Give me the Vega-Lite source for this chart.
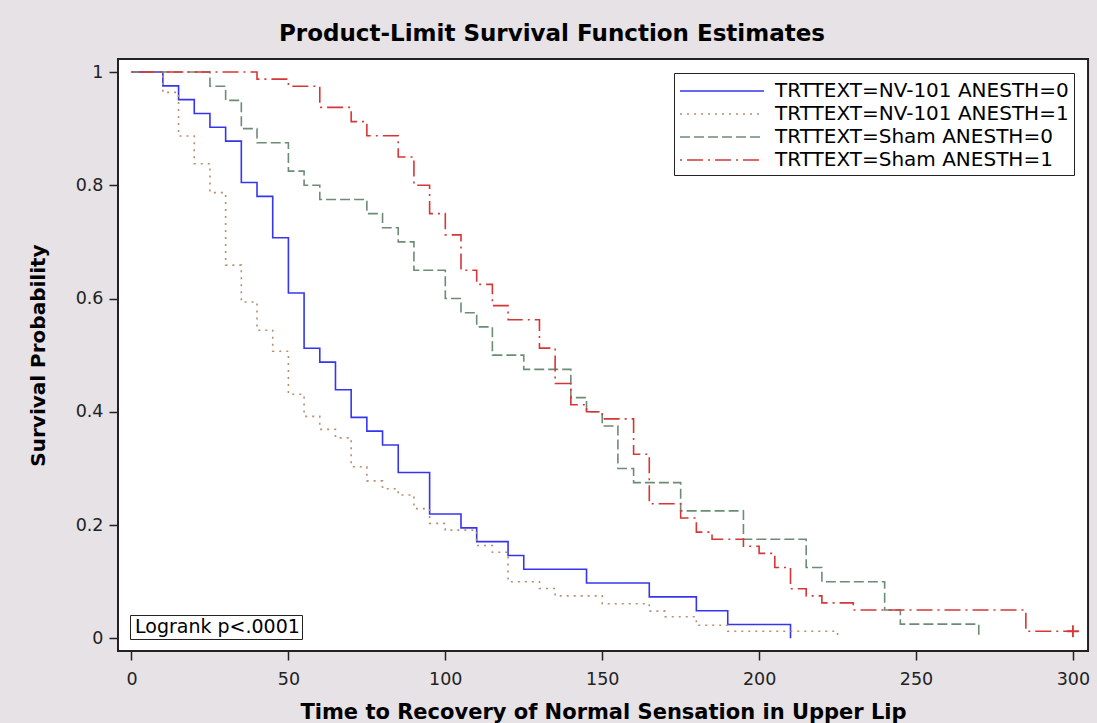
{
  "$schema": "https://vega.github.io/schema/vega-lite/v6.json",
  "width": 970,
  "height": 592,
  "autosize": {"type": "none"},
  "padding": {"left": 118, "top": 59, "right": 9, "bottom": 72},
  "background": "#E6E2E6",
  "title": {
    "text": "Product-Limit Survival Function Estimates",
    "font": "DejaVu Sans",
    "fontSize": 23,
    "fontWeight": "bold",
    "color": "black",
    "anchor": "middle",
    "dx": -51,
    "offset": 12
  },
  "config": {
    "font": "DejaVu Sans",
    "view": {"fill": "#FFFFFF", "fillOpacity": 1, "stroke": "#222", "strokeWidth": 2},
    "axis": {
      "grid": false,
      "domain": false,
      "tickColor": "#222",
      "tickWidth": 1.5,
      "tickSize": 9,
      "labelFont": "DejaVu Sans",
      "labelFontSize": 17.5,
      "labelColor": "#222",
      "titleFont": "DejaVu Sans",
      "titleFontWeight": "bold",
      "titleColor": "black"
    }
  },
  "datasets": {
    "km": [
      {"stratum": "TRTTEXT=NV-101 ANESTH=0", "time": 0, "survival": 1},
      {"stratum": "TRTTEXT=NV-101 ANESTH=0", "time": 10, "survival": 0.9756},
      {"stratum": "TRTTEXT=NV-101 ANESTH=0", "time": 15, "survival": 0.9512},
      {"stratum": "TRTTEXT=NV-101 ANESTH=0", "time": 20, "survival": 0.9268},
      {"stratum": "TRTTEXT=NV-101 ANESTH=0", "time": 25, "survival": 0.9024},
      {"stratum": "TRTTEXT=NV-101 ANESTH=0", "time": 30, "survival": 0.878},
      {"stratum": "TRTTEXT=NV-101 ANESTH=0", "time": 35, "survival": 0.8049},
      {"stratum": "TRTTEXT=NV-101 ANESTH=0", "time": 40, "survival": 0.7805},
      {"stratum": "TRTTEXT=NV-101 ANESTH=0", "time": 45, "survival": 0.7073},
      {"stratum": "TRTTEXT=NV-101 ANESTH=0", "time": 50, "survival": 0.6098},
      {"stratum": "TRTTEXT=NV-101 ANESTH=0", "time": 55, "survival": 0.5122},
      {"stratum": "TRTTEXT=NV-101 ANESTH=0", "time": 60, "survival": 0.4878},
      {"stratum": "TRTTEXT=NV-101 ANESTH=0", "time": 65, "survival": 0.439},
      {"stratum": "TRTTEXT=NV-101 ANESTH=0", "time": 70, "survival": 0.3902},
      {"stratum": "TRTTEXT=NV-101 ANESTH=0", "time": 75, "survival": 0.3659},
      {"stratum": "TRTTEXT=NV-101 ANESTH=0", "time": 80, "survival": 0.3415},
      {"stratum": "TRTTEXT=NV-101 ANESTH=0", "time": 85, "survival": 0.2927},
      {"stratum": "TRTTEXT=NV-101 ANESTH=0", "time": 95, "survival": 0.2195},
      {"stratum": "TRTTEXT=NV-101 ANESTH=0", "time": 105, "survival": 0.1951},
      {"stratum": "TRTTEXT=NV-101 ANESTH=0", "time": 110, "survival": 0.1707},
      {"stratum": "TRTTEXT=NV-101 ANESTH=0", "time": 120, "survival": 0.1463},
      {"stratum": "TRTTEXT=NV-101 ANESTH=0", "time": 125, "survival": 0.122},
      {"stratum": "TRTTEXT=NV-101 ANESTH=0", "time": 145, "survival": 0.0976},
      {"stratum": "TRTTEXT=NV-101 ANESTH=0", "time": 165, "survival": 0.0732},
      {"stratum": "TRTTEXT=NV-101 ANESTH=0", "time": 180, "survival": 0.0488},
      {"stratum": "TRTTEXT=NV-101 ANESTH=0", "time": 190, "survival": 0.0244},
      {"stratum": "TRTTEXT=NV-101 ANESTH=0", "time": 210, "survival": 0},

      {"stratum": "TRTTEXT=NV-101 ANESTH=1", "time": 0, "survival": 1},
      {"stratum": "TRTTEXT=NV-101 ANESTH=1", "time": 10, "survival": 0.964},
      {"stratum": "TRTTEXT=NV-101 ANESTH=1", "time": 15, "survival": 0.887},
      {"stratum": "TRTTEXT=NV-101 ANESTH=1", "time": 20, "survival": 0.838},
      {"stratum": "TRTTEXT=NV-101 ANESTH=1", "time": 25, "survival": 0.787},
      {"stratum": "TRTTEXT=NV-101 ANESTH=1", "time": 30, "survival": 0.659},
      {"stratum": "TRTTEXT=NV-101 ANESTH=1", "time": 35, "survival": 0.594},
      {"stratum": "TRTTEXT=NV-101 ANESTH=1", "time": 40, "survival": 0.544},
      {"stratum": "TRTTEXT=NV-101 ANESTH=1", "time": 45, "survival": 0.507},
      {"stratum": "TRTTEXT=NV-101 ANESTH=1", "time": 50, "survival": 0.431},
      {"stratum": "TRTTEXT=NV-101 ANESTH=1", "time": 55, "survival": 0.392},
      {"stratum": "TRTTEXT=NV-101 ANESTH=1", "time": 60, "survival": 0.369},
      {"stratum": "TRTTEXT=NV-101 ANESTH=1", "time": 65, "survival": 0.354},
      {"stratum": "TRTTEXT=NV-101 ANESTH=1", "time": 70, "survival": 0.303},
      {"stratum": "TRTTEXT=NV-101 ANESTH=1", "time": 75, "survival": 0.278},
      {"stratum": "TRTTEXT=NV-101 ANESTH=1", "time": 80, "survival": 0.264},
      {"stratum": "TRTTEXT=NV-101 ANESTH=1", "time": 85, "survival": 0.253},
      {"stratum": "TRTTEXT=NV-101 ANESTH=1", "time": 90, "survival": 0.229},
      {"stratum": "TRTTEXT=NV-101 ANESTH=1", "time": 95, "survival": 0.203},
      {"stratum": "TRTTEXT=NV-101 ANESTH=1", "time": 100, "survival": 0.191},
      {"stratum": "TRTTEXT=NV-101 ANESTH=1", "time": 110, "survival": 0.164},
      {"stratum": "TRTTEXT=NV-101 ANESTH=1", "time": 115, "survival": 0.152},
      {"stratum": "TRTTEXT=NV-101 ANESTH=1", "time": 120, "survival": 0.1},
      {"stratum": "TRTTEXT=NV-101 ANESTH=1", "time": 130, "survival": 0.088},
      {"stratum": "TRTTEXT=NV-101 ANESTH=1", "time": 135, "survival": 0.075},
      {"stratum": "TRTTEXT=NV-101 ANESTH=1", "time": 150, "survival": 0.061},
      {"stratum": "TRTTEXT=NV-101 ANESTH=1", "time": 165, "survival": 0.048},
      {"stratum": "TRTTEXT=NV-101 ANESTH=1", "time": 170, "survival": 0.038},
      {"stratum": "TRTTEXT=NV-101 ANESTH=1", "time": 180, "survival": 0.023},
      {"stratum": "TRTTEXT=NV-101 ANESTH=1", "time": 190, "survival": 0.0125},
      {"stratum": "TRTTEXT=NV-101 ANESTH=1", "time": 225, "survival": 0},

      {"stratum": "TRTTEXT=Sham ANESTH=0", "time": 0, "survival": 1},
      {"stratum": "TRTTEXT=Sham ANESTH=0", "time": 25, "survival": 0.975},
      {"stratum": "TRTTEXT=Sham ANESTH=0", "time": 30, "survival": 0.95},
      {"stratum": "TRTTEXT=Sham ANESTH=0", "time": 35, "survival": 0.9},
      {"stratum": "TRTTEXT=Sham ANESTH=0", "time": 40, "survival": 0.875},
      {"stratum": "TRTTEXT=Sham ANESTH=0", "time": 50, "survival": 0.825},
      {"stratum": "TRTTEXT=Sham ANESTH=0", "time": 55, "survival": 0.8},
      {"stratum": "TRTTEXT=Sham ANESTH=0", "time": 60, "survival": 0.775},
      {"stratum": "TRTTEXT=Sham ANESTH=0", "time": 75, "survival": 0.75},
      {"stratum": "TRTTEXT=Sham ANESTH=0", "time": 80, "survival": 0.725},
      {"stratum": "TRTTEXT=Sham ANESTH=0", "time": 85, "survival": 0.7},
      {"stratum": "TRTTEXT=Sham ANESTH=0", "time": 90, "survival": 0.65},
      {"stratum": "TRTTEXT=Sham ANESTH=0", "time": 100, "survival": 0.6},
      {"stratum": "TRTTEXT=Sham ANESTH=0", "time": 105, "survival": 0.575},
      {"stratum": "TRTTEXT=Sham ANESTH=0", "time": 110, "survival": 0.55},
      {"stratum": "TRTTEXT=Sham ANESTH=0", "time": 115, "survival": 0.5},
      {"stratum": "TRTTEXT=Sham ANESTH=0", "time": 125, "survival": 0.475},
      {"stratum": "TRTTEXT=Sham ANESTH=0", "time": 140, "survival": 0.425},
      {"stratum": "TRTTEXT=Sham ANESTH=0", "time": 145, "survival": 0.4},
      {"stratum": "TRTTEXT=Sham ANESTH=0", "time": 150, "survival": 0.375},
      {"stratum": "TRTTEXT=Sham ANESTH=0", "time": 155, "survival": 0.3},
      {"stratum": "TRTTEXT=Sham ANESTH=0", "time": 160, "survival": 0.275},
      {"stratum": "TRTTEXT=Sham ANESTH=0", "time": 175, "survival": 0.225},
      {"stratum": "TRTTEXT=Sham ANESTH=0", "time": 195, "survival": 0.175},
      {"stratum": "TRTTEXT=Sham ANESTH=0", "time": 215, "survival": 0.125},
      {"stratum": "TRTTEXT=Sham ANESTH=0", "time": 220, "survival": 0.1},
      {"stratum": "TRTTEXT=Sham ANESTH=0", "time": 240, "survival": 0.05},
      {"stratum": "TRTTEXT=Sham ANESTH=0", "time": 245, "survival": 0.025},
      {"stratum": "TRTTEXT=Sham ANESTH=0", "time": 270, "survival": 0},

      {"stratum": "TRTTEXT=Sham ANESTH=1", "time": 0, "survival": 1},
      {"stratum": "TRTTEXT=Sham ANESTH=1", "time": 40, "survival": 0.9875},
      {"stratum": "TRTTEXT=Sham ANESTH=1", "time": 50, "survival": 0.975},
      {"stratum": "TRTTEXT=Sham ANESTH=1", "time": 60, "survival": 0.9375},
      {"stratum": "TRTTEXT=Sham ANESTH=1", "time": 70, "survival": 0.9125},
      {"stratum": "TRTTEXT=Sham ANESTH=1", "time": 75, "survival": 0.8875},
      {"stratum": "TRTTEXT=Sham ANESTH=1", "time": 85, "survival": 0.85},
      {"stratum": "TRTTEXT=Sham ANESTH=1", "time": 90, "survival": 0.8},
      {"stratum": "TRTTEXT=Sham ANESTH=1", "time": 95, "survival": 0.75},
      {"stratum": "TRTTEXT=Sham ANESTH=1", "time": 100, "survival": 0.7125},
      {"stratum": "TRTTEXT=Sham ANESTH=1", "time": 105, "survival": 0.65},
      {"stratum": "TRTTEXT=Sham ANESTH=1", "time": 110, "survival": 0.625},
      {"stratum": "TRTTEXT=Sham ANESTH=1", "time": 115, "survival": 0.5875},
      {"stratum": "TRTTEXT=Sham ANESTH=1", "time": 120, "survival": 0.5625},
      {"stratum": "TRTTEXT=Sham ANESTH=1", "time": 130, "survival": 0.5125},
      {"stratum": "TRTTEXT=Sham ANESTH=1", "time": 135, "survival": 0.45},
      {"stratum": "TRTTEXT=Sham ANESTH=1", "time": 140, "survival": 0.4125},
      {"stratum": "TRTTEXT=Sham ANESTH=1", "time": 145, "survival": 0.4},
      {"stratum": "TRTTEXT=Sham ANESTH=1", "time": 150, "survival": 0.3875},
      {"stratum": "TRTTEXT=Sham ANESTH=1", "time": 160, "survival": 0.325},
      {"stratum": "TRTTEXT=Sham ANESTH=1", "time": 165, "survival": 0.2375},
      {"stratum": "TRTTEXT=Sham ANESTH=1", "time": 175, "survival": 0.2125},
      {"stratum": "TRTTEXT=Sham ANESTH=1", "time": 180, "survival": 0.1875},
      {"stratum": "TRTTEXT=Sham ANESTH=1", "time": 185, "survival": 0.175},
      {"stratum": "TRTTEXT=Sham ANESTH=1", "time": 195, "survival": 0.1625},
      {"stratum": "TRTTEXT=Sham ANESTH=1", "time": 200, "survival": 0.15},
      {"stratum": "TRTTEXT=Sham ANESTH=1", "time": 205, "survival": 0.125},
      {"stratum": "TRTTEXT=Sham ANESTH=1", "time": 210, "survival": 0.0875},
      {"stratum": "TRTTEXT=Sham ANESTH=1", "time": 215, "survival": 0.075},
      {"stratum": "TRTTEXT=Sham ANESTH=1", "time": 220, "survival": 0.0625},
      {"stratum": "TRTTEXT=Sham ANESTH=1", "time": 230, "survival": 0.05},
      {"stratum": "TRTTEXT=Sham ANESTH=1", "time": 285, "survival": 0.0125},
      {"stratum": "TRTTEXT=Sham ANESTH=1", "time": 300, "survival": 0.0125}
    ],
    "censored": [
      {"stratum": "TRTTEXT=Sham ANESTH=1", "time": 300, "survival": 0.0125}
    ],
    "note": [
      {"note": "Logrank p<.0001"}
    ]
  },
  "layer": [
    {
      "data": {"name": "km"},
      "mark": {
        "type": "rect",
        "fill": "#FFFFFF",
        "fillOpacity": 1,
        "opacity": 1,
        "stroke": "#222",
        "strokeWidth": 2,
        "xOffset": -13.5,
        "x2Offset": 15.1,
        "yOffset": 12.7,
        "y2Offset": -13
      },
      "encoding": {
        "x": {"aggregate": "min", "field": "time", "type": "quantitative"},
        "x2": {"aggregate": "max", "field": "time"},
        "y": {"aggregate": "min", "field": "survival", "type": "quantitative"},
        "y2": {"aggregate": "max", "field": "survival"}
      }
    },
    {
      "data": {"name": "km"},
      "mark": {"type": "line", "interpolate": "step-after", "strokeWidth": 1.6},
      "encoding": {
        "x": {
          "field": "time",
          "type": "quantitative",
          "scale": {"domain": [-4.3, 304.8], "nice": false, "zero": false},
          "axis": {
            "values": [0, 50, 100, 150, 200, 250, 300],
            "title": "Time to Recovery of Normal Sensation in Upper Lip",
            "titleFontSize": 21,
            "labelPadding": 10,
            "titlePadding": 14
          }
        },
        "y": {
          "field": "survival",
          "type": "quantitative",
          "scale": {"domain": [-0.0224, 1.023], "nice": false, "zero": false},
          "axis": {
            "values": [0, 0.2, 0.4, 0.6, 0.8, 1],
            "format": "~g",
            "title": "Survival Probability",
            "titleFontSize": 20,
            "labelPadding": 6,
            "titlePadding": 27
          }
        },
        "color": {
          "field": "stratum",
          "type": "nominal",
          "scale": {
            "domain": ["TRTTEXT=NV-101 ANESTH=0", "TRTTEXT=NV-101 ANESTH=1", "TRTTEXT=Sham ANESTH=0", "TRTTEXT=Sham ANESTH=1"],
            "range": ["#3535F0", "#B98C6E", "#6D8C76", "#D63636"]
          },
          "legend": {
            "orient": "top-right",
            "title": null,
            "symbolType": "M-1,0L6,0",
            "symbolSize": 576,
            "symbolStrokeWidth": 1.6,
            "labelFont": "DejaVu Sans",
            "labelFontSize": 20,
            "labelColor": "black",
            "labelLimit": 0,
            "strokeColor": "#222",
            "fillColor": "white",
            "padding": 5,
            "offset": 14,
            "columnPadding": 0,
            "labelOffset": 70,
            "rowPadding": -1
          }
        },
        "strokeDash": {
          "field": "stratum",
          "type": "nominal",
          "scale": {
            "domain": ["TRTTEXT=NV-101 ANESTH=0", "TRTTEXT=NV-101 ANESTH=1", "TRTTEXT=Sham ANESTH=0", "TRTTEXT=Sham ANESTH=1"],
            "range": [[1, 0], [2, 5], [10, 4], [2, 5, 16, 5]]
          },
          "legend": {
            "orient": "top-right",
            "title": null,
            "symbolType": "M-1,0L6,0",
            "symbolSize": 576,
            "symbolStrokeWidth": 1.6,
            "labelFont": "DejaVu Sans",
            "labelFontSize": 20,
            "labelColor": "black",
            "labelLimit": 0,
            "strokeColor": "#222",
            "fillColor": "white",
            "padding": 5,
            "offset": 14,
            "columnPadding": 0,
            "labelOffset": 70,
            "rowPadding": -1
          }
        }
      }
    },
    {
      "data": {"name": "censored"},
      "mark": {"type": "point", "shape": "M-1,0L1,0M0,-1L0,1", "size": 144, "filled": false, "strokeWidth": 1.8, "color": "#D63636", "opacity": 1},
      "encoding": {
        "x": {"field": "time", "type": "quantitative"},
        "y": {"field": "survival", "type": "quantitative"}
      }
    },
    {
      "data": {"name": "note"},
      "mark": {"type": "point", "opacity": 0},
      "encoding": {
        "shape": {
          "field": "note",
          "type": "nominal",
          "legend": {
            "orient": "bottom-left",
            "title": null,
            "symbolOpacity": 0,
            "symbolStrokeWidth": 0,
            "symbolSize": 9,
            "labelOffset": -16,
            "labelLimit": 0,
            "labelFont": "DejaVu Sans",
            "labelFontSize": 19,
            "labelColor": "black",
            "strokeColor": "#222",
            "fillColor": "white",
            "padding": 2,
            "columnPadding": 0,
            "offset": 12
          }
        }
      }
    }
  ]
}
